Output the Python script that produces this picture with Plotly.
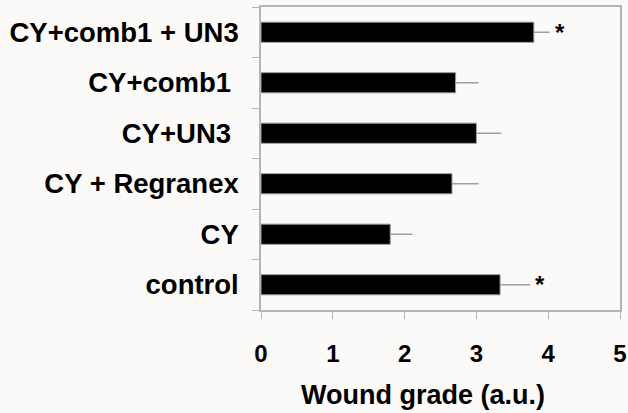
import plotly.graph_objects as go

categories = ["control", "CY", "CY + Regranex", "CY+UN3", "CY+comb1", "CY+comb1 + UN3"]
tick_labels = ["control", "CY", "CY + Regranex", "CY+UN3\u00a0", "CY+comb1\u00a0", "CY+comb1 + UN3"]
values = [3.33, 1.80, 2.66, 3.00, 2.71, 3.80]
errors = [0.42, 0.31, 0.37, 0.35, 0.32, 0.22]
significant = [True, False, False, False, False, True]
x_ticks = [0, 1, 2, 3, 4, 5]
x_title = "Wound grade (a.u.)"

font = "Liberation Sans, Arial, sans-serif"
grey = "#b4b4b4"
bg = "#fcf9f9"

fig = go.Figure()
fig.add_trace(go.Bar(
    y=categories, x=values, orientation="h",
    marker=dict(color="black", line=dict(color="#9a9a9a", width=1)),
    width=0.4,
    error_x=dict(type="data", array=errors, symmetric=False, arrayminus=[0]*len(errors),
                 color="#a0a0a0", thickness=1.5, width=0),
))

for c, v, e, s in zip(categories, values, errors, significant):
    if s:
        fig.add_annotation(x=v + e + 0.14, y=c, text="<b>*</b>", showarrow=False,
                           xanchor="center", yanchor="middle",
                           font=dict(family=font, size=24, color="black"))

fig.add_annotation(xref="paper", yref="paper", x=0.451, y=-0.28,
                   text=f"<b>{x_title}</b>", showarrow=False,
                   xanchor="center", yanchor="middle",
                   font=dict(family=font, size=27, color="black"))

fig.update_layout(
    width=628, height=413,
    margin=dict(l=261, r=8, t=7, b=103),
    paper_bgcolor=bg, plot_bgcolor=bg,
    showlegend=False,
    xaxis=dict(range=[0, 5], tickvals=x_ticks, ticktext=[f"<b>{t}</b>" for t in x_ticks],
               automargin=False,
               showgrid=False, zeroline=False, showline=True, linecolor=grey, linewidth=1.5,
               mirror=True, ticks="outside", ticklen=7, tickcolor=grey, tickwidth=1,
               ticklabelstandoff=14,
               tickfont=dict(family=font, size=24, color="black")),
    yaxis=dict(type="category", categoryorder="array", categoryarray=categories,
               tickvals=categories, ticktext=[f"<b>{t}</b>" for t in tick_labels],
               range=[-0.5, 5.5], automargin=False,
               showgrid=False, zeroline=False, showline=True, linecolor=grey, linewidth=1.5,
               mirror=True, ticks="outside", ticklen=7, tickcolor=grey, tickwidth=1,
               tickson="boundaries", ticklabelstandoff=15,
               tickfont=dict(family=font, size=27.5, color="black")),
)

fig.write_html("out.html", config={"displayModeBar": False},
               post_script="document.body.style.margin='0';document.body.style.overflow='hidden';")
